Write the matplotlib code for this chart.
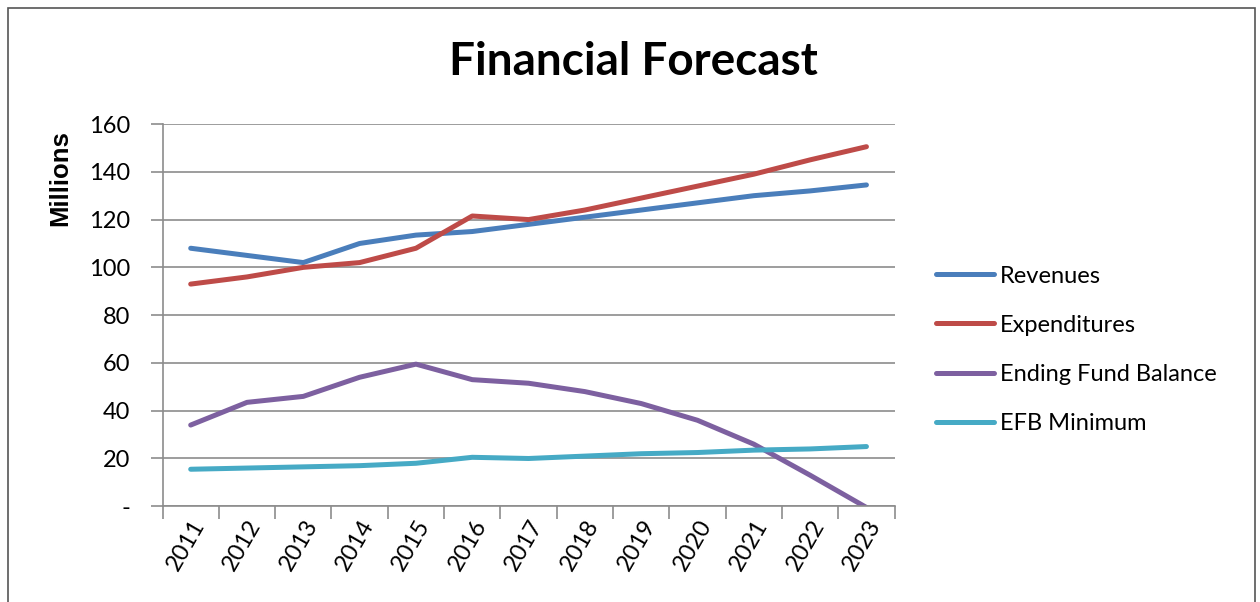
import matplotlib
matplotlib.use("Agg")
import matplotlib.pyplot as plt
from matplotlib.patches import Rectangle
from matplotlib.ticker import FuncFormatter, MultipleLocator

# ================================
# Data (millions)
# ================================

YEARS = [2011, 2012, 2013, 2014, 2015, 2016, 2017, 2018, 2019, 2020, 2021, 2022, 2023]

REVENUES = [108, 105, 102, 110, 113.5, 115, 118, 121, 124, 127, 130, 132, 134.5]
EXPENDITURES = [93, 96, 100, 102, 108, 121.5, 120, 124, 129, 134, 139, 145, 150.5]
ENDING_FUND_BALANCE = [34, 43.5, 46, 54, 59.5, 53, 51.5, 48, 43, 36, 26, 13, -0.5]
EFB_MINIMUM = [15.5, 16, 16.5, 17, 18, 20.5, 20, 21, 22, 22.5, 23.5, 24, 25]

SERIES = [
    ("Revenues", REVENUES, "#4A7EBB"),
    ("Expenditures", EXPENDITURES, "#BE4B48"),
    ("Ending Fund Balance", ENDING_FUND_BALANCE, "#7D60A0"),
    ("EFB Minimum", EFB_MINIMUM, "#46AAC5"),
]

plt.rcParams["font.family"] = ["Lato", "DejaVu Sans"]

fig = plt.figure(figsize=(12.6, 6.02), dpi=100)
ax = fig.add_axes([0.129, 0.159, 0.581, 0.635])

# outer chart border (bottom edge sits below the crop)
fig.patches.append(Rectangle((0.006, -0.05), 0.99, 1.037, transform=fig.transFigure,
                             fill=False, edgecolor="#555555", linewidth=1.2))

xs = list(range(len(YEARS)))
for name, vals, color in SERIES:
    ax.plot(xs, vals, color=color, lw=3.6, label=name, solid_capstyle="round", clip_on=True)

ax.set_xlim(-0.5, len(YEARS) - 0.5)
ax.set_ylim(0, 160)
ax.yaxis.set_major_locator(MultipleLocator(20))
ax.yaxis.set_major_formatter(FuncFormatter(lambda v, p: "-" if v == 0 else f"{v:.0f}"))
ax.grid(axis="y", color="#8c8c8c", lw=1.2)
ax.set_axisbelow(True)

# category boundaries get the tick marks, labels sit at the centres
ax.set_xticks([i - 0.5 for i in range(len(YEARS) + 1)])
ax.set_xticklabels([])
ax.set_xticks(xs, minor=True)
ax.set_xticklabels([str(y) for y in YEARS], minor=True, rotation=60,
                   ha="right", va="top", rotation_mode="anchor", fontsize=17)
ax.tick_params(axis="x", which="minor", length=0, pad=7)
ax.tick_params(axis="x", which="major", length=9, color="#8c8c8c", width=1.2)
ax.tick_params(axis="y", length=9, color="#8c8c8c", width=1.2, labelsize=17, pad=14)

for side in ("top", "right"):
    ax.spines[side].set_visible(False)
for side in ("left", "bottom"):
    ax.spines[side].set_color("#8c8c8c")
    ax.spines[side].set_linewidth(1.2)

fig.text(0.048, 0.704, "Millions", rotation=90, ha="center", va="center",
         fontsize=18.5, fontweight="bold", family=["Liberation Sans", "DejaVu Sans"])

fig.text(0.503, 0.897, "Financial Forecast", ha="center", va="center",
         fontsize=33, fontweight="bold")

fig.legend(loc="center left", bbox_to_anchor=(0.726, 0.419), frameon=False,
           fontsize=17, handlelength=2.45, handletextpad=0.25, labelspacing=1.19)

fig.savefig("out.png", dpi=100)
